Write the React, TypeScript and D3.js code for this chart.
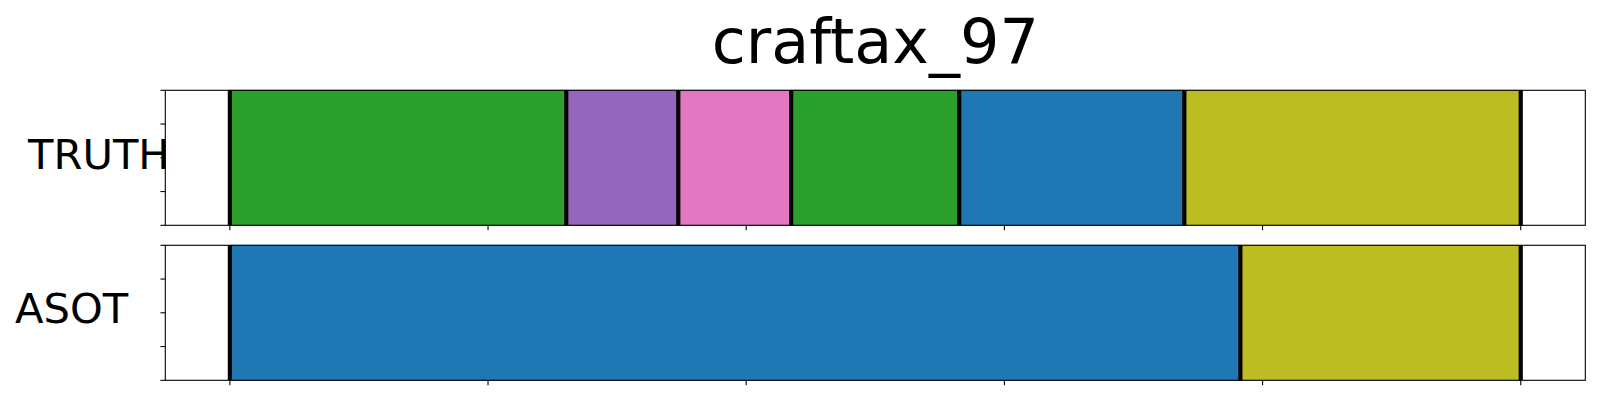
import React from "react";
import * as d3 from "d3";

// ---- data ----
const title = "craftax_97";
const rowNames = ["TRUTH", "ASOT"];
const truthBounds = [0, 130.3, 173.7, 217.4, 282.5, 369.7, 500];
const truthLabels = [2, 4, 6, 2, 0, 8];
const asotBounds = [0, 391.4, 500];
const asotLabels = [0, 8];
const xTicks = [0, 100, 200, 300, 400, 500];
const yTicks = [0, 0.25, 0.5, 0.75, 1];

const W = 1600;
const H = 400;
const left = 165.3;
const right = 1585.3;
const rows = [
  { name: rowNames[0], bounds: truthBounds, labels: truthLabels, top: 90.3, bottom: 225.3, labelX: 28, labelY: 169.3 },
  { name: rowNames[1], bounds: asotBounds, labels: asotLabels, top: 245.3, bottom: 380.3, labelX: 15, labelY: 322.7 },
];

const font = "'DejaVu Sans', sans-serif";

export default function App() {
  const dataW = (right - left) / 1.1;
  const x = d3.scaleLinear().domain([0, 500]).range([left + dataW * 0.05, left + dataW * 0.05 + dataW]);
  const color = (i: number) => d3.schemeCategory10[i];
  return (
    <svg width={W} height={H} style={{ position: "absolute", left: 0, top: 0, background: "#fff" }}>
      <rect x={0} y={0} width={W} height={H} fill="#fff" />
      <text x={(left + right) / 2} y={63.3} textAnchor="middle" fontFamily={font} fontSize={62} fill="#000">
        {title}
      </text>
      {rows.map((r, ri) => {
        const y = d3.scaleLinear().domain([0, 1]).range([r.bottom, r.top]);
        return (
          <g key={ri}>
            {r.labels.map((lab, i) => (
              <rect
                key={i}
                x={x(r.bounds[i])}
                y={y(1)}
                width={x(r.bounds[i + 1]) - x(r.bounds[i])}
                height={y(0) - y(1)}
                fill={color(lab)}
                stroke={d3.color(color(lab))!.darker(0.3).toString()}
                strokeWidth={1}
              />
            ))}
            {r.bounds.map((b, i) => (
              <line key={"b" + i} x1={x(b)} x2={x(b)} y1={y(0)} y2={y(1)} stroke="#000" strokeWidth={4.17} />
            ))}
            <rect x={left} y={r.top} width={right - left} height={r.bottom - r.top} fill="none" stroke="#000" strokeWidth={1.1} />
            {yTicks.map((t, i) => (
              <line key={"yt" + i} x1={left - 4.86} x2={left} y1={y(t)} y2={y(t)} stroke="#000" strokeWidth={1.1} />
            ))}
            {xTicks.map((t, i) => (
              <line key={"xt" + i} x1={x(t)} x2={x(t)} y1={r.bottom} y2={r.bottom + 4.86} stroke="#000" strokeWidth={1.1} />
            ))}
            <text x={r.labelX} y={r.labelY} fontFamily={font} fontSize={41.67} fill="#000">
              {r.name}
            </text>
          </g>
        );
      })}
    </svg>
  );
}
